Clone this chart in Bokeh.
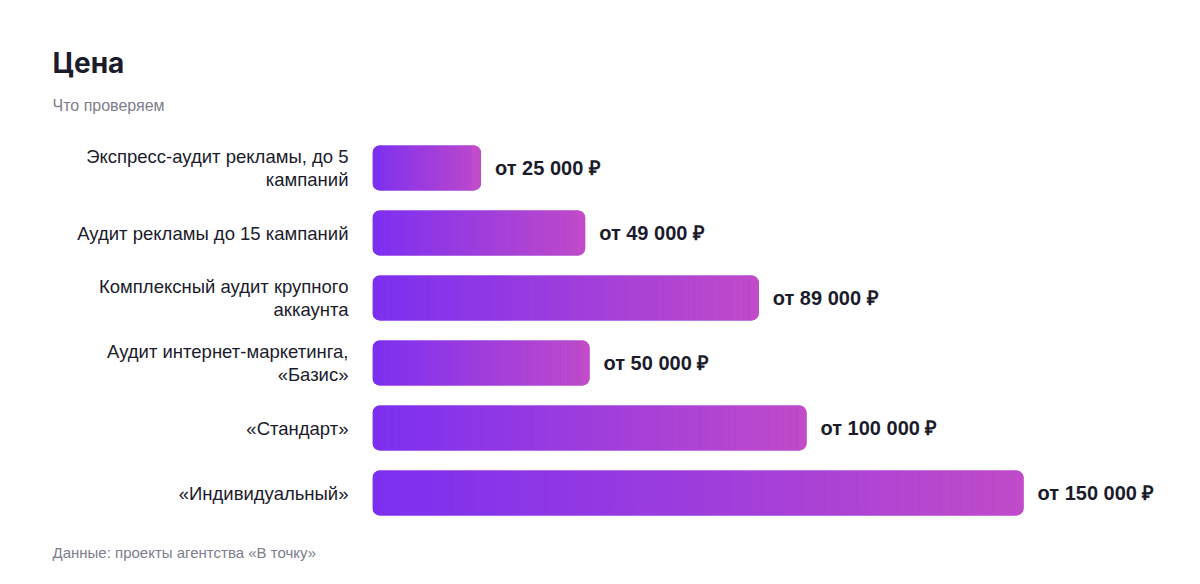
from bokeh.plotting import figure
from bokeh.models import Title, Range1d, FactorRange, ColumnDataSource
from bokeh.core.properties import value
from bokeh.embed import file_html
from bokeh.resources import INLINE

categories = [
    "Экспресс-аудит рекламы, до 5\nкампаний",
    "Аудит рекламы до 15 кампаний",
    "Комплексный аудит крупного\nаккаунта",
    "Аудит интернет-маркетинга,\n«Базис»",
    "«Стандарт»",
    "«Индивидуальный»",
]
prices = [25000, 49000, 89000, 50000, 100000, 150000]

title_text = "Цена"
subtitle_text = "Что проверяем"
footnote_text = "Данные: проекты агентства «В точку»"

C0 = (123, 47, 241)
C1 = (193, 75, 200)

def lerp(t):
    return "#%02x%02x%02x" % tuple(int(round(a + (b - a) * t)) for a, b in zip(C0, C1))

W, H = 1200, 584
FRAME_L, FRAME_R = 372, 12
FRAME_T, FRAME_B = 135, 59
frame_w = W - FRAME_L - FRAME_R
X_MAX = 188000
px_per_unit = frame_w / X_MAX

p = figure(width=W, height=H, output_backend="svg", toolbar_location=None,
           x_range=Range1d(0, X_MAX),
           y_range=FactorRange(factors=categories[::-1], range_padding=0),
           min_border_left=FRAME_L, min_border_right=FRAME_R,
           min_border_top=FRAME_T, min_border_bottom=FRAME_B)
p.outline_line_color = None
p.background_fill_color = "white"
p.border_fill_color = "white"
p.xgrid.visible = False
p.ygrid.visible = False
p.xaxis.visible = False
p.yaxis.axis_line_color = None
p.yaxis.major_tick_line_color = None
p.yaxis.minor_tick_line_color = None
p.yaxis.major_label_standoff = 18
p.yaxis.major_label_text_font = "Liberation Sans"
p.yaxis.major_label_text_font_size = "18.5px"
p.yaxis.major_label_text_color = "#1b1b2c"
p.yaxis.major_label_text_line_height = 1.05

BAR_H = 0.69
RADIUS = 7
cap = 9 / px_per_unit
NSEG = 60

# base bar underneath (fills anti-alias seams)
p.hbar(y=categories, left=[0] * len(prices), right=prices, height=BAR_H,
       fill_color=lerp(0.5), line_color=None, border_radius=RADIUS)
# left caps
p.hbar(y=categories, left=[0] * len(prices), right=[cap] * len(prices), height=BAR_H,
       fill_color=lerp(0), line_color=None, border_radius=(RADIUS, 0, 0, RADIUS))
# right caps
p.hbar(y=categories, left=[v - cap for v in prices], right=prices, height=BAR_H,
       fill_color=lerp(1), line_color=None, border_radius=(0, RADIUS, RADIUS, 0))
# gradient body
sy, sl, sr, sc = [], [], [], []
for cat, v in zip(categories, prices):
    a, b = cap, v - cap
    step = (b - a) / NSEG
    for k in range(NSEG):
        l = a + k * step
        sy.append(cat)
        sl.append(l)
        sr.append(l + step)
        sc.append(lerp((l + step / 2) / v))
src = ColumnDataSource(dict(y=sy, left=sl, right=sr, color=sc))
p.hbar(y="y", left="left", right="right", height=BAR_H, fill_color="color",
       line_color=None, source=src)

labels = ["от " + f"{v:,}".replace(",", "\u00a0") + " ₽" for v in prices]
p.text(x=prices, y=categories, text=labels, x_offset=14, text_baseline="middle",
       text_align="left", text_font=value("Liberation Sans"), text_font_style="bold",
       text_font_size="20px", text_color="#1b1b2c")

p.add_layout(Title(text=subtitle_text, align="left", offset=-320,
                   text_font="Liberation Sans", text_font_style="normal",
                   text_font_size="16px", text_color="#7d7d8c", standoff=44), "above")
p.add_layout(Title(text=title_text, align="left", offset=-320,
                   text_font="Inter", text_font_style="bold",
                   text_font_size="28px", text_color="#1b1b2c", standoff=-15), "above")
p.add_layout(Title(text=footnote_text, align="left", offset=-320,
                   text_font="Liberation Sans", text_font_style="normal",
                   text_font_size="15px", text_color="#7d7d8c", standoff=33), "below")

open("out.html", "w").write(file_html(p, INLINE))
